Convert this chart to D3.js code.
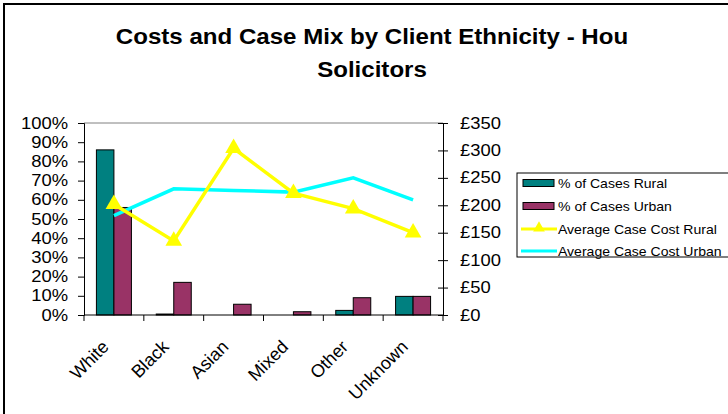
<!DOCTYPE html>
<html>
<head>
<meta charset="utf-8">
<script src="https://cdn.jsdelivr.net/npm/d3@7"></script>
<style>
  body { margin: 0; background: #fff; }
  text { font-family: Arial, "Liberation Sans", sans-serif; fill: #000; }
</style>
</head>
<body>
<div id="chart"></div>
<script>
// values
var categories = ["White", "Black", "Asian", "Mixed", "Other", "Unknown"];
var pctRural = [86, 0.5, 0, 0, 2.4, 9.7];
var pctUrban = [56, 17, 5.6, 1.7, 9, 9.7];
var costRural = [202, 135, 304, 222, 194, 150];
var costUrban = [181, 230, 227, 224, 250, 210];
var pctTicks = [0, 10, 20, 30, 40, 50, 60, 70, 80, 90, 100];
var costTicks = [0, 50, 100, 150, 200, 250, 300, 350];
var legendLabels = ["% of Cases Rural", "% of Cases Urban", "Average Case Cost Rural", "Average Case Cost Urban"];

var W = 728, H = 414;
var plot = {left: 84, right: 443, top: 123, bottom: 315};

var svg = d3.select("#chart").append("svg")
    .attr("width", W)
    .attr("height", H);

svg.append("rect").attr("width", W).attr("height", H).attr("fill", "#fff");

// chart border (runs off the right and bottom edge)
svg.append("rect")
    .attr("x", 4).attr("y", 4)
    .attr("width", W + 20).attr("height", H + 20)
    .attr("fill", "none")
    .attr("stroke", "#000")
    .attr("stroke-width", 2);

// title
var title = svg.append("g").attr("transform", "translate(372,0)");
title.append("text")
    .attr("transform", "translate(0,44) scale(1.07,1)")
    .attr("text-anchor", "middle")
    .style("font-size", "22.5px").style("font-weight", "bold")
    .text("Costs and Case Mix by Client Ethnicity - Hou");
title.append("text")
    .attr("transform", "translate(0,77) scale(1.07,1)")
    .attr("text-anchor", "middle")
    .style("font-size", "22.5px").style("font-weight", "bold")
    .text("Solicitors");

var x = d3.scaleBand().domain(categories).range([plot.left, plot.right]);
var yPct = d3.scaleLinear().domain([0, 100]).range([plot.bottom, plot.top]);
var yCost = d3.scaleLinear().domain([0, 350]).range([plot.bottom, plot.top]);

// plot area top edge
svg.append("line")
    .attr("x1", plot.left).attr("x2", plot.right)
    .attr("y1", plot.top).attr("y2", plot.top)
    .attr("stroke", "#808080");

// bars
var barW = 17.5;
var cx = function(d) { return x(d) + x.bandwidth() / 2; };
var bars = svg.append("g");
bars.selectAll("rect.rural").data(categories).enter().append("rect")
    .attr("x", function(d) { return cx(d) - barW; })
    .attr("y", function(d, i) { return yPct(pctRural[i]); })
    .attr("width", barW)
    .attr("height", function(d, i) { return plot.bottom - yPct(pctRural[i]); })
    .attr("fill", "#008080").attr("stroke", "#000").attr("stroke-width", 1);
bars.selectAll("rect.urban").data(categories).enter().append("rect")
    .attr("x", function(d) { return cx(d); })
    .attr("y", function(d, i) { return yPct(pctUrban[i]); })
    .attr("width", barW)
    .attr("height", function(d, i) { return plot.bottom - yPct(pctUrban[i]); })
    .attr("fill", "#993366").attr("stroke", "#000").attr("stroke-width", 1);

// axes
var gL = svg.append("g")
    .attr("transform", "translate(" + plot.left + ",0)")
    .call(d3.axisLeft(yPct).tickValues(pctTicks).tickSize(6).tickPadding(10)
        .tickFormat(function(d) { return d + "%"; }));
var gR = svg.append("g")
    .attr("transform", "translate(" + plot.right + ",0)")
    .call(d3.axisRight(yCost).tickValues(costTicks).tickSize(5).tickPadding(12)
        .tickFormat(function(d) { return "£" + d; }));
gR.selectAll(".tick line").attr("x1", -5);
[gL, gR].forEach(function(g) {
    g.select(".domain").attr("stroke", "#000");
    g.selectAll(".tick line").attr("stroke", "#000");
    g.selectAll(".tick text")
        .style("font-size", "16px")
        .attr("transform", "scale(1.15,1)")
        .attr("x", function() { return +d3.select(this).attr("x") / 1.15; });
});

// x axis: ticks on category boundaries
var gX = svg.append("g");
gX.append("line")
    .attr("x1", plot.left).attr("x2", plot.right)
    .attr("y1", plot.bottom).attr("y2", plot.bottom)
    .attr("stroke", "#000");
var bounds = categories.map(function(d) { return x(d); }).concat([plot.right]);
gX.selectAll("line.tk").data(bounds).enter().append("line")
    .attr("x1", function(d) { return d; }).attr("x2", function(d) { return d; })
    .attr("y1", plot.bottom).attr("y2", plot.bottom + 6)
    .attr("stroke", "#000");
gX.selectAll("text").data(categories).enter().append("text")
    .attr("transform", function(d) { return "translate(" + (cx(d) - 4) + "," + (plot.bottom + 33) + ") rotate(-45)"; })
    .attr("text-anchor", "end")
    .style("font-size", "18px")
    .text(function(d) { return d; });

// lines
var lineUrban = d3.line()
    .x(function(d, i) { return cx(categories[i]); })
    .y(function(d) { return yCost(d); });
svg.append("path").datum(costUrban)
    .attr("d", lineUrban)
    .attr("fill", "none").attr("stroke", "#00ffff").attr("stroke-width", 3.5);
svg.append("path").datum(costRural)
    .attr("d", lineUrban)
    .attr("fill", "none").attr("stroke", "#ffff00").attr("stroke-width", 3.5);
var tri = d3.symbol().type(d3.symbolTriangle).size(120);
svg.selectAll("path.tri").data(costRural).enter().append("path")
    .attr("transform", function(d, i) { return "translate(" + cx(categories[i]) + "," + yCost(d) + ")"; })
    .attr("d", tri)
    .attr("fill", "#ffff00");

// legend
var lg = svg.append("g");
lg.append("rect")
    .attr("x", 517).attr("y", 173)
    .attr("width", 240).attr("height", 84)
    .attr("fill", "#fff").attr("stroke", "#000");
var rowY = [183, 206, 229, 251];
var rows = lg.selectAll("g.row").data(legendLabels).enter().append("g")
    .attr("transform", function(d, i) { return "translate(0," + rowY[i] + ")"; });
rows.filter(function(d, i) { return i < 2; }).append("rect")
    .attr("x", 523).attr("y", -3.5).attr("width", 31).attr("height", 7)
    .attr("fill", function(d, i) { return i === 0 ? "#008080" : "#993366"; })
    .attr("stroke", "#000");
rows.filter(function(d, i) { return i >= 2; }).append("line")
    .attr("x1", 521).attr("x2", 557).attr("y1", 0).attr("y2", 0)
    .attr("stroke", function(d, i) { return i === 0 ? "#ffff00" : "#00ffff"; })
    .attr("stroke-width", 3);
rows.filter(function(d, i) { return i === 2; }).append("path")
    .attr("transform", "translate(539,-1)")
    .attr("d", d3.symbol().type(d3.symbolTriangle).size(60))
    .attr("fill", "#ffff00");
rows.append("text")
    .attr("transform", "translate(558,5) scale(1.04,1)")
    .style("font-size", "13.5px")
    .text(function(d) { return d; });
</script>
</body>
</html>
